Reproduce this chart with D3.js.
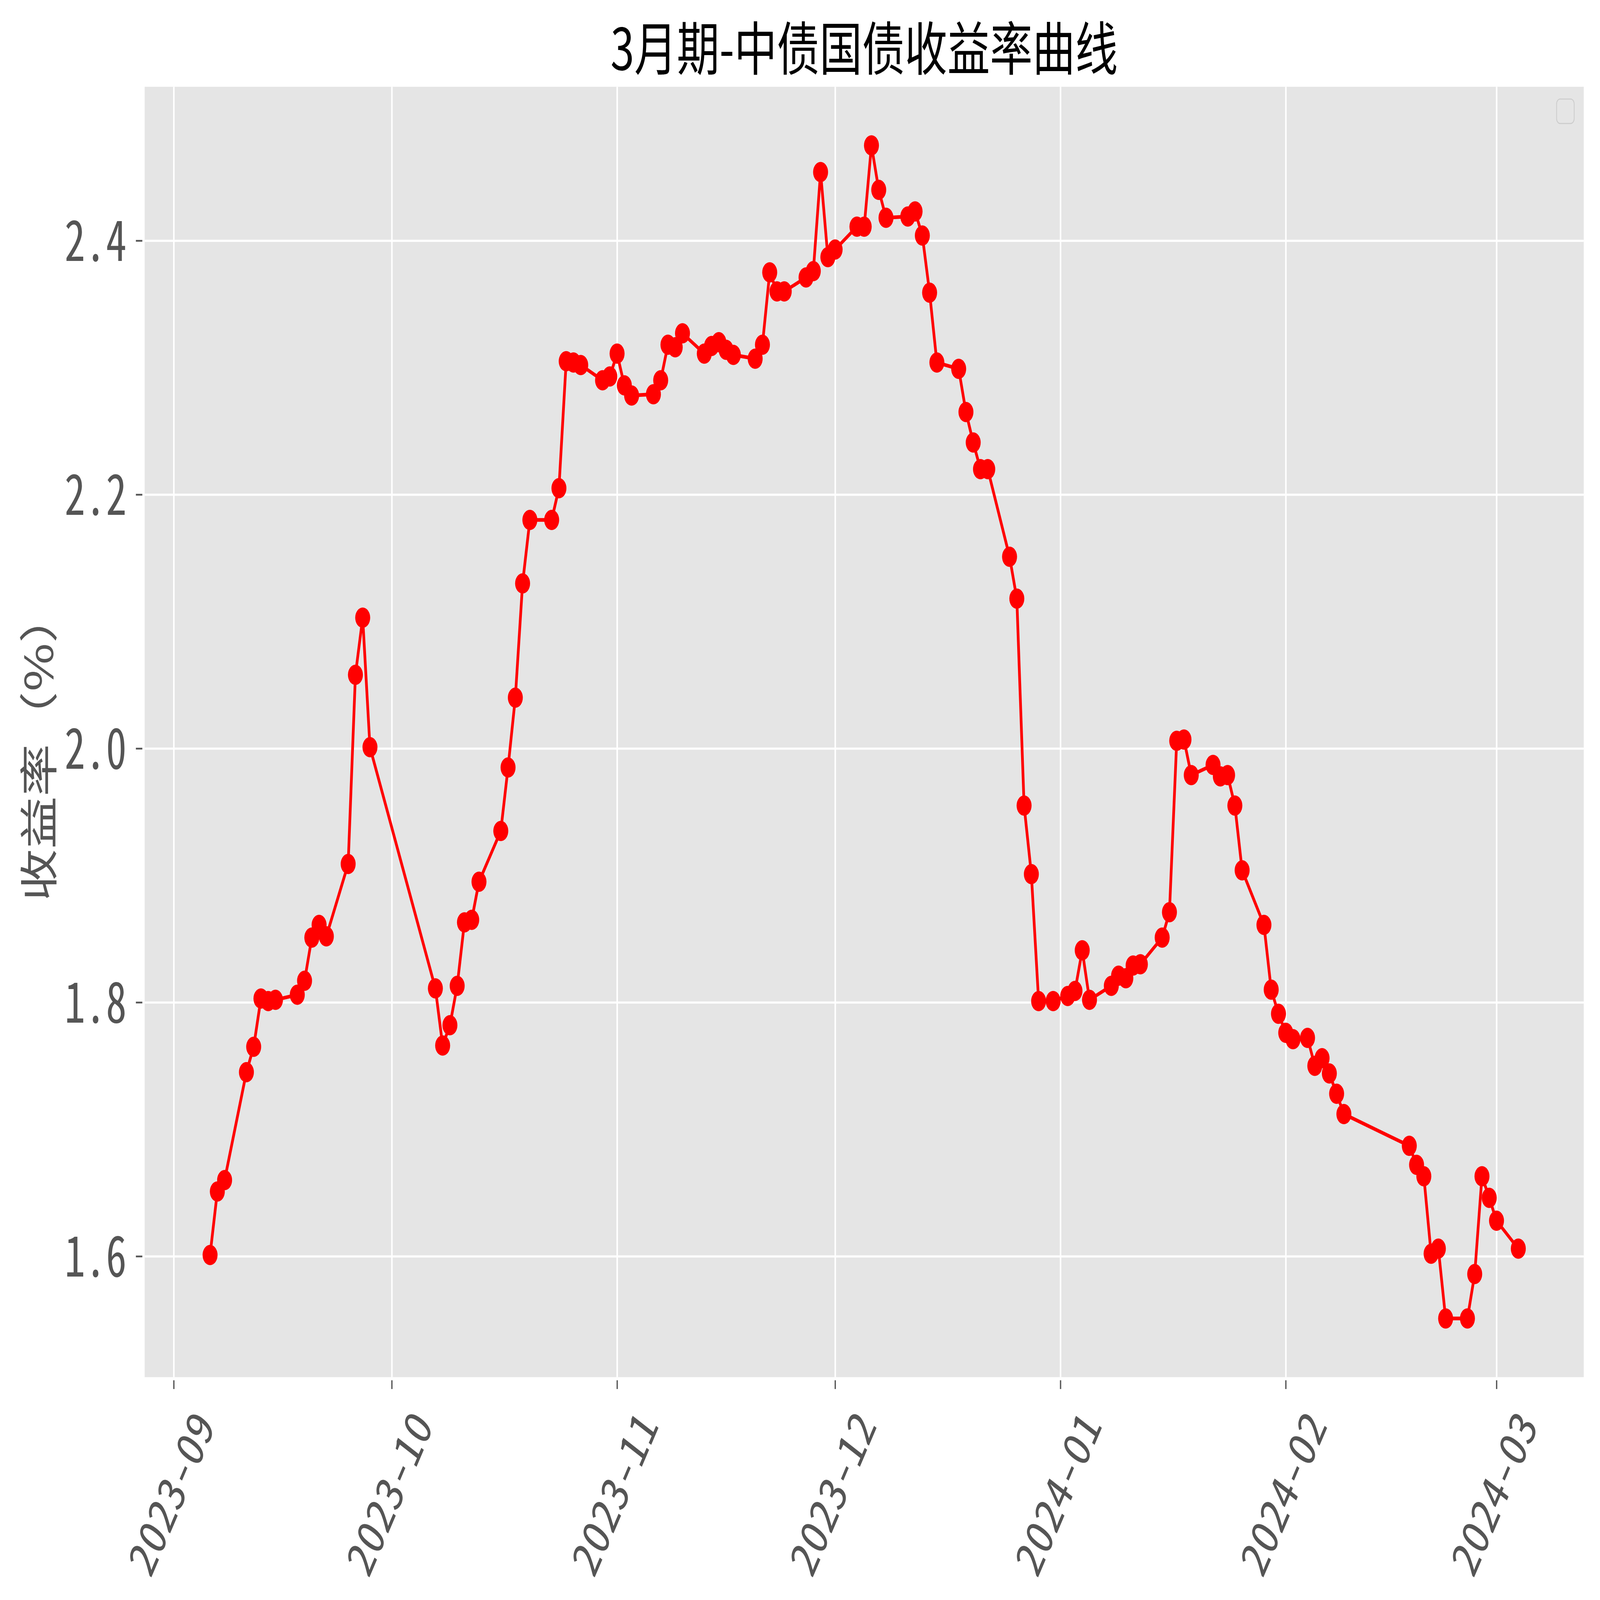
<!DOCTYPE html>
<html>
<head>
<meta charset="utf-8">
<script src="https://cdn.jsdelivr.net/npm/d3@7"></script>
<style>
    html, body { margin: 0; padding: 0; background: #fff; overflow: hidden; }
    #chart svg { display: block; width: 100vw; height: 100vh; }
    .tick-label { font-family: "Noto Sans Mono CJK SC", "Noto Sans CJK SC", monospace; fill: #555555; }
</style>
</head>
<body>
<div id="chart"></div>
<script>
// trading days shown on the chart (yyyy-mm-dd)
const dates=[
    "2023-09-06", "2023-09-07", "2023-09-08", "2023-09-11", "2023-09-12", "2023-09-13", "2023-09-14", "2023-09-15",
    "2023-09-18", "2023-09-19", "2023-09-20", "2023-09-21", "2023-09-22", "2023-09-25", "2023-09-26", "2023-09-27", "2023-09-28",
    "2023-10-07", "2023-10-08", "2023-10-09", "2023-10-10", "2023-10-11", "2023-10-12", "2023-10-13",
    "2023-10-16", "2023-10-17", "2023-10-18", "2023-10-19", "2023-10-20", "2023-10-23", "2023-10-24", "2023-10-25",
    "2023-10-26", "2023-10-27", "2023-10-30", "2023-10-31",
    "2023-11-01", "2023-11-02", "2023-11-03", "2023-11-06", "2023-11-07", "2023-11-08", "2023-11-09", "2023-11-10",
    "2023-11-13", "2023-11-14", "2023-11-15", "2023-11-16", "2023-11-17", "2023-11-20", "2023-11-21", "2023-11-22",
    "2023-11-23", "2023-11-24", "2023-11-27", "2023-11-28", "2023-11-29", "2023-11-30",
    "2023-12-01", "2023-12-04", "2023-12-05", "2023-12-06", "2023-12-07", "2023-12-08", "2023-12-11", "2023-12-12",
    "2023-12-13", "2023-12-14", "2023-12-15", "2023-12-18", "2023-12-19", "2023-12-20", "2023-12-21", "2023-12-22",
    "2023-12-25", "2023-12-26", "2023-12-27", "2023-12-28", "2023-12-29", "2023-12-31",
    "2024-01-02", "2024-01-03", "2024-01-04", "2024-01-05", "2024-01-08", "2024-01-09", "2024-01-10", "2024-01-11",
    "2024-01-12", "2024-01-15", "2024-01-16", "2024-01-17", "2024-01-18", "2024-01-19", "2024-01-22", "2024-01-23",
    "2024-01-24", "2024-01-25", "2024-01-26", "2024-01-29", "2024-01-30", "2024-01-31",
    "2024-02-01", "2024-02-02", "2024-02-04", "2024-02-05", "2024-02-06", "2024-02-07", "2024-02-08", "2024-02-09",
    "2024-02-18", "2024-02-19", "2024-02-20", "2024-02-21", "2024-02-22", "2024-02-23", "2024-02-26", "2024-02-27",
    "2024-02-28", "2024-02-29",
    "2024-03-01", "2024-03-04"
];

// 3-month yield, %
const yields=[
    1.601, 1.651, 1.660, 1.745, 1.765, 1.803, 1.801, 1.802,
    1.806, 1.817, 1.851, 1.861, 1.852, 1.909, 2.058, 2.103, 2.001,
    1.811, 1.766, 1.782, 1.813, 1.863, 1.865, 1.895,
    1.935, 1.985, 2.040, 2.130, 2.180, 2.180, 2.205, 2.305,
    2.304, 2.302, 2.290, 2.293,
    2.311, 2.286, 2.278, 2.279, 2.290, 2.318, 2.316, 2.327,
    2.311, 2.317, 2.320, 2.314, 2.310, 2.307, 2.318, 2.375,
    2.360, 2.360, 2.371, 2.376, 2.454, 2.387,
    2.393, 2.411, 2.411, 2.475, 2.440, 2.418, 2.419, 2.423,
    2.404, 2.359, 2.304, 2.299, 2.265, 2.241, 2.220, 2.220,
    2.151, 2.118, 1.955, 1.901, 1.801, 1.801,
    1.805, 1.809, 1.841, 1.802, 1.813, 1.821, 1.819, 1.829,
    1.830, 1.851, 1.871, 2.006, 2.007, 1.979, 1.987, 1.978,
    1.979, 1.955, 1.904, 1.861, 1.810, 1.791,
    1.776, 1.771, 1.772, 1.750, 1.756, 1.744, 1.728, 1.712,
    1.687, 1.672, 1.663, 1.602, 1.606, 1.551, 1.551, 1.586,
    1.663, 1.646,
    1.628, 1.606
];

const yTicks=[1.6, 1.8, 2.0, 2.2, 2.4];
const titleText="3月期-中债国债收益率曲线";
const yLabelText="收益率（%）";

document.addEventListener("DOMContentLoaded", function () {
    const width=6194;
    const height=4573;
    const plot={left: 560, right: 6131, top: 248, bottom: 3936};
    const tickGap=9, tickLen=25;

    const parse=d3.timeParse("%Y-%m-%d");
    const data=dates.map((d, i) => ({date: parse(d), value: yields[i]}));

    // matplotlib style 5% margins on both axes
    const [x0, x1]=d3.extent(data, d => d.date);
    const xPad=(x1-x0)*0.05;
    const [y0, y1]=d3.extent(data, d => d.value);
    const yPad=(y1-y0)*0.05;

    const x=d3.scaleTime()
        .domain([new Date(+x0-xPad), new Date(+x1+xPad)])
        .range([plot.left, plot.right]);
    const y=d3.scaleLinear()
        .domain([y0-yPad, y1+yPad])
        .range([plot.bottom, plot.top]);

    // drawn in a fixed 6194x4573 user space, stretched to whatever the window is
    const svg=d3.select("#chart")
        .append("svg")
        .attr("viewBox", `0 0 ${width} ${height}`)
        .attr("preserveAspectRatio", "none");

    svg.append("rect")
        .attr("width", width)
        .attr("height", height)
        .attr("fill", "#fff");

    svg.append("rect")
        .attr("x", plot.left)
        .attr("y", plot.top)
        .attr("width", plot.right-plot.left)
        .attr("height", plot.bottom-plot.top)
        .attr("fill", "#E5E5E5");

    const monthTicks=d3.timeMonth.range(d3.timeMonth.ceil(x.domain()[0]), x.domain()[1]);

    // grid
    svg.append("g")
        .attr("transform", `translate(0,${plot.top})`)
        .call(d3.axisBottom(x).tickValues(monthTicks).tickSize(plot.bottom-plot.top).tickFormat(""))
        .call(g => g.select(".domain").remove())
        .selectAll("line")
        .attr("stroke", "#fff")
        .attr("stroke-width", 6);

    svg.append("g")
        .attr("transform", `translate(${plot.left},0)`)
        .call(d3.axisRight(y).tickValues(yTicks).tickSize(plot.right-plot.left).tickFormat(""))
        .call(g => g.select(".domain").remove())
        .selectAll("line")
        .attr("stroke", "#fff")
        .attr("stroke-width", 6);

    // y axis
    const yAxis=svg.append("g")
        .attr("transform", `translate(${plot.left-tickGap},0)`)
        .call(d3.axisLeft(y).tickValues(yTicks).tickSize(tickLen).tickPadding(36).tickFormat(d3.format(".1f")));
    yAxis.select(".domain").remove();
    yAxis.selectAll("line").attr("stroke", "#555555").attr("stroke-width", 5);
    yAxis.selectAll("text")
        .attr("class", "tick-label")
        .attr("font-size", 160)
        .attr("dy", "0.36em");

    // x axis, labels turned 60 degrees with their box centred under the tick
    const xFontSize=145;
    const xAxis=svg.append("g")
        .attr("transform", `translate(0,${plot.bottom+tickGap})`)
        .call(d3.axisBottom(x).tickValues(monthTicks).tickSize(tickLen).tickFormat(d3.timeFormat("%Y-%m")));
    xAxis.select(".domain").remove();
    xAxis.selectAll("line").attr("stroke", "#555555").attr("stroke-width", 5);
    xAxis.selectAll("text")
        .attr("class", "tick-label")
        .attr("font-size", xFontSize)
        .attr("y", 0)
        .attr("dy", 0)
        .attr("text-anchor", "middle")
        .attr("dominant-baseline", "central")
        .attr("transform", function () {
            const len=this.getComputedTextLength();
            const a=Math.PI/3;
            const boxH=len*Math.sin(a)+xFontSize*Math.cos(a);
            return `translate(-18,${tickLen+37+boxH/2}) rotate(-60)`;
        });

    // line + markers
    const line=d3.line()
        .x(d => x(d.date))
        .y(d => y(d.value));

    svg.append("path")
        .datum(data)
        .attr("d", line)
        .attr("fill", "none")
        .attr("stroke", "#FF0000")
        .attr("stroke-width", 10.5)
        .attr("stroke-linejoin", "round");

    svg.selectAll(".dot")
        .data(data)
        .enter().append("circle")
        .attr("class", "dot")
        .attr("cx", d => x(d.date))
        .attr("cy", d => y(d.value))
        .attr("r", 29)
        .attr("fill", "#FF0000");

    // empty legend frame, top right
    svg.append("rect")
        .attr("x", plot.right-105)
        .attr("y", plot.top+35)
        .attr("width", 68)
        .attr("height", 70)
        .attr("rx", 14)
        .attr("fill", "#E5E5E5")
        .attr("stroke", "#CCCCCC")
        .attr("stroke-width", 3);

    // title
    svg.append("text")
        .attr("x", (plot.left+plot.right)/2)
        .attr("y", 200)
        .attr("text-anchor", "middle")
        .attr("font-family", "'Noto Sans CJK SC', sans-serif")
        .attr("font-size", 165)
        .attr("fill", "#000")
        .text(titleText);

    // y label
    svg.append("text")
        .attr("transform", `translate(140,${(plot.top+plot.bottom)/2+40}) rotate(-90)`)
        .attr("text-anchor", "middle")
        .attr("dominant-baseline", "central")
        .attr("font-family", "'Noto Sans CJK SC', sans-serif")
        .attr("font-size", 150)
        .attr("fill", "#555555")
        .text(yLabelText);
});
</script>
</body>
</html>
